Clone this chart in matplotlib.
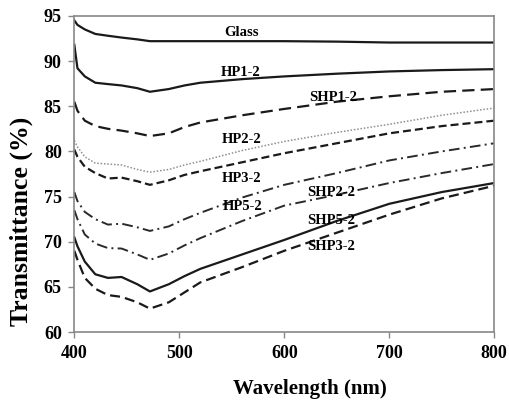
import matplotlib
matplotlib.use("Agg")
import matplotlib.pyplot as plt

# wavelength grid (nm)
wavelength = [400, 403, 410, 420, 432, 445, 460, 472, 490, 505, 520, 560, 600, 650, 700, 750, 800]

glass = [94.5, 94.0, 93.5, 93.0, 92.8, 92.6, 92.4, 92.2, 92.2, 92.2, 92.2, 92.2, 92.2, 92.15, 92.05, 92.05, 92.05]
hp1 = [91.8, 89.2, 88.3, 87.6, 87.45, 87.3, 87.0, 86.6, 86.9, 87.3, 87.6, 88.0, 88.3, 88.6, 88.85, 89.0, 89.1]
shp1 = [85.5, 84.5, 83.4, 82.8, 82.5, 82.3, 82.0, 81.7, 82.0, 82.7, 83.2, 84.0, 84.7, 85.5, 86.1, 86.6, 86.9]
hp2 = [81.2, 80.5, 79.4, 78.7, 78.6, 78.5, 78.0, 77.7, 78.0, 78.5, 78.9, 80.1, 81.1, 82.1, 83.0, 84.0, 84.8]
hp3 = [80.2, 79.4, 78.3, 77.6, 77.0, 77.1, 76.7, 76.3, 76.8, 77.4, 77.8, 78.8, 79.8, 80.9, 82.0, 82.8, 83.4]
hp5 = [75.5, 74.5, 73.3, 72.5, 71.9, 72.0, 71.6, 71.2, 71.7, 72.5, 73.2, 74.9, 76.3, 77.6, 79.0, 80.0, 80.9]
shp2 = [73.5, 72.5, 70.8, 69.8, 69.3, 69.25, 68.6, 68.0, 68.7, 69.6, 70.4, 72.3, 74.0, 75.2, 76.5, 77.6, 78.6]
shp5 = [70.5, 69.5, 67.8, 66.4, 66.0, 66.1, 65.3, 64.5, 65.3, 66.2, 67.0, 68.6, 70.2, 72.3, 74.2, 75.5, 76.5]
shp3 = [69.0, 68.0, 66.0, 64.8, 64.1, 63.9, 63.3, 62.6, 63.3, 64.4, 65.5, 67.2, 69.0, 71.0, 73.0, 74.8, 76.2]

labels = ["Glass", "HP1-2", "SHP1-2", "HP2-2", "HP3-2", "HP5-2", "SHP2-2", "SHP5-2", "SHP3-2"]
label_x = [559, 558, 647, 559, 559, 560, 645, 645, 645]
label_y = [93.2, 88.7, 86.0, 81.3, 77.0, 73.9, 75.5, 72.4, 69.5]

plt.rcParams["font.family"] = ["Liberation Serif", "DejaVu Serif"]
plt.rcParams["font.weight"] = "bold"

fig = plt.figure(figsize=(5.09, 4.07), dpi=100)
ax = fig.add_axes([0.146, 0.184, 0.825, 0.777])

series = [glass, hp1, shp1, hp2, hp3, hp5, shp2, shp5, shp3]
styles = [
    dict(ls="-", lw=1.6, color="#1a1a1a"),
    dict(ls="-", lw=1.6, color="#1a1a1a"),
    dict(ls=(0, (5.5, 2.8)), lw=1.6, color="#1a1a1a"),
    dict(ls=(0, (1, 1.2)), lw=1.1, color="#8f8f8f"),
    dict(ls=(0, (3.6, 1.8)), lw=1.6, color="#1a1a1a"),
    dict(ls=(0, (5.5, 2.2, 1, 2.2)), lw=1.4, color="#2a2a2a"),
    dict(ls=(0, (5.5, 2.2, 1, 2.2)), lw=1.4, color="#2a2a2a"),
    dict(ls="-", lw=1.6, color="#1a1a1a"),
    dict(ls=(0, (4.5, 2.3)), lw=1.6, color="#1a1a1a"),
]
for vals, st in zip(series, styles):
    ax.plot(wavelength, vals, **st)

for txt, x, y in zip(labels, label_x, label_y):
    ax.text(x, y, txt, ha="center", va="center", fontsize=10.5, fontweight="bold")

ax.set_xlim(400, 800)
ax.set_ylim(60, 95)
ax.set_xticks([400, 500, 600, 700, 800])
ax.set_yticks(range(60, 96, 5))
ax.tick_params(direction="out", length=4, width=1, color="#888888", labelsize=13, pad=5)
for sp in ax.spines.values():
    sp.set_color("#888888")
    sp.set_linewidth(1.2)

ax.set_xlabel("Wavelength (nm)", fontsize=15, fontweight="bold")
ax.xaxis.set_label_coords(0.56, -0.148)
ax.set_ylabel("Transmittance (%)", fontsize=18.5, fontweight="bold")
ax.yaxis.set_label_coords(-0.098, 0.35)

fig.savefig("out.png", dpi=100)
